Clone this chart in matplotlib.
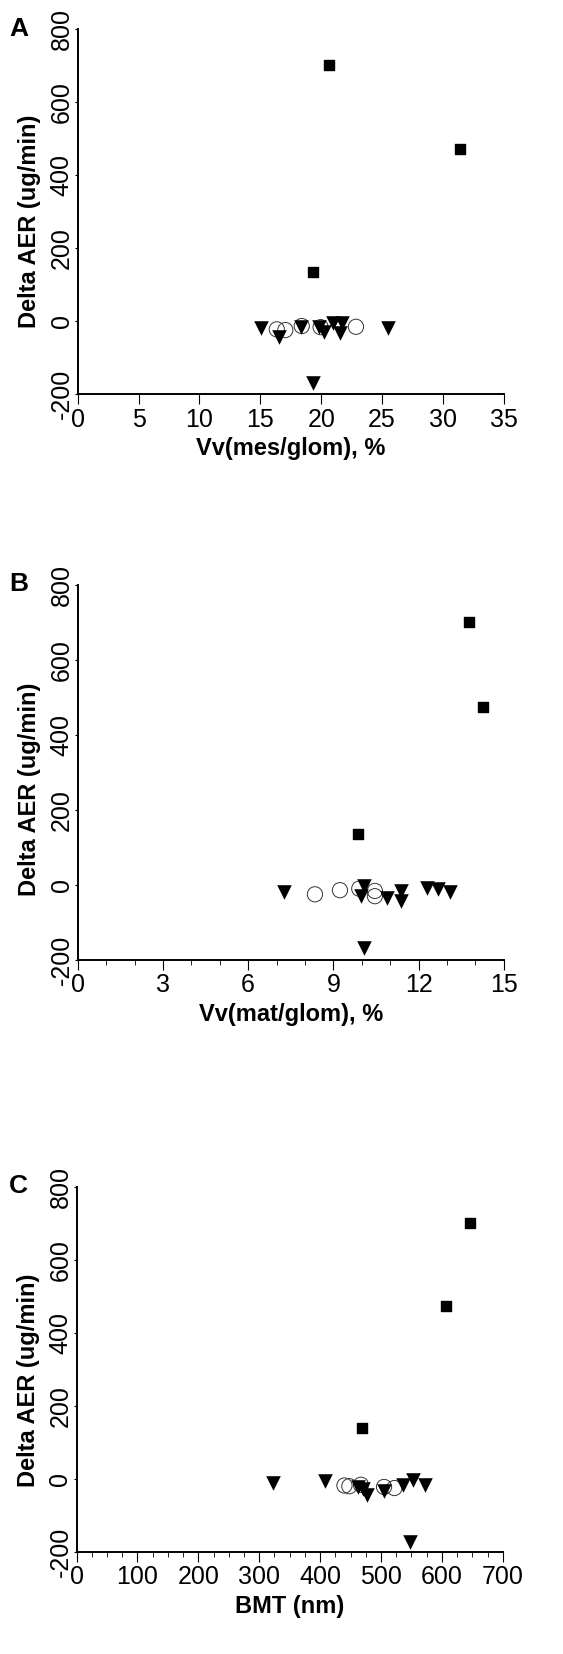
import matplotlib.pyplot as plt
import numpy as np
from matplotlib.ticker import MultipleLocator

plt.rcParams['font.family'] = ['Liberation Sans', 'DejaVu Sans']
plt.rcParams['axes.unicode_minus'] = False

# panel A: Vv(mes/glom), %
a_sq_x = [20.6, 31.4, 19.3]
a_sq_y = [702, 473, 136]
a_tri_x = [15.05, 16.55, 18.35, 19.85, 20.25, 21.0, 21.7, 21.55, 25.45, 19.3]
a_tri_y = [-19, -44, -16, -15, -28, -4, -5, -33, -19, -170]
a_cir_x = [16.35, 17.05, 18.4, 19.95, 22.85]
a_cir_y = [-22, -24, -13, -16, -15]

# panel B: Vv(mat/glom), %
b_sq_x = [13.78, 14.27, 9.85]
b_sq_y = [701, 475, 137]
b_tri_x = [7.26, 9.97, 10.09, 10.87, 11.38, 11.38, 12.28, 12.69, 13.1, 10.09]
b_tri_y = [-18, -30, -3, -34, -16, -43, -7, -12, -18, -169]
b_cir_x = [8.35, 9.23, 9.91, 10.46, 10.46]
b_cir_y = [-25, -14, -10, -16, -30]

# panel C: BMT (nm)
c_sq_x = [647, 606, 468]
c_sq_y = [703, 476, 140]
c_tri_x = [323, 408, 462, 470, 477, 505, 536, 552, 573, 548]
c_tri_y = [-11, -5, -21, -28, -44, -33, -15, -2, -15, -171]
c_cir_x = [440, 448, 467, 505, 522]
c_cir_y = [-17, -19, -15, -21, -24]

panels = [
    ('A', a_sq_x, a_sq_y, a_tri_x, a_tri_y, a_cir_x, a_cir_y,
     'Vv(mes/glom), %', 35, 5, None),
    ('B', b_sq_x, b_sq_y, b_tri_x, b_tri_y, b_cir_x, b_cir_y,
     'Vv(mat/glom), %', 15, 3, 1),
    ('C', c_sq_x, c_sq_y, c_tri_x, c_tri_y, c_cir_x, c_cir_y,
     'BMT (nm)', 700, 100, 25),
]

# axes boxes in figure fractions [left, bottom, width, height]
boxes = [
    [0.138, 0.7616, 0.757, 0.2207],
    [0.138, 0.4196, 0.757, 0.2269],
    [0.136, 0.0615, 0.757, 0.2207],
]
letter_y = [0.990, 0.654, 0.290]
ylabel_y = [0.475, 0.456, 0.471]

fig = plt.figure(figsize=(5.63, 16.54), dpi=100)

for (letter, sx, sy, tx, ty, cx, cy, xlabel, xmax, xmaj, xmin), box, ly, yly in zip(panels, boxes, letter_y, ylabel_y):
    ax = fig.add_axes(box)
    ax.scatter(sx, sy, marker='s', s=62, color='black', zorder=3)
    ax.scatter(cx, cy, marker='o', s=120, facecolors='none', edgecolors='#333333',
               linewidths=0.7, zorder=2)
    ax.scatter(tx, ty, marker='v', s=110, color='black', linewidths=0, zorder=3)

    ax.set_xlim(0, xmax)
    ax.set_ylim(-200, 800)
    ax.xaxis.set_major_locator(MultipleLocator(xmaj))
    if xmin:
        ax.xaxis.set_minor_locator(MultipleLocator(xmin))
    ax.yaxis.set_major_locator(MultipleLocator(200))

    for s in ['top', 'right']:
        ax.spines[s].set_visible(False)
    for s in ['left', 'bottom']:
        ax.spines[s].set_linewidth(1.4)

    ax.tick_params(axis='both', which='major', direction='out', width=0.8, labelsize=18)
    ax.tick_params(axis='x', which='major', length=7, pad=2.5)
    ax.tick_params(axis='y', which='major', length=2.5, pad=0.5)
    ax.tick_params(axis='x', which='minor', direction='out', length=3.5, width=0.6)
    ax.tick_params(axis='y', labelrotation=90)
    for lab in ax.get_yticklabels():
        lab.set_va('center')

    ax.set_xlabel(xlabel, fontsize=17, fontweight='bold', labelpad=4)
    ax.set_ylabel('Delta AER (ug/min)', fontsize=17, fontweight='bold', labelpad=6, y=yly)
    fig.text(0.016, ly, letter, fontsize=19, fontweight='bold', va='top', ha='left')

fig.savefig('out.png', dpi=100, facecolor='white')
